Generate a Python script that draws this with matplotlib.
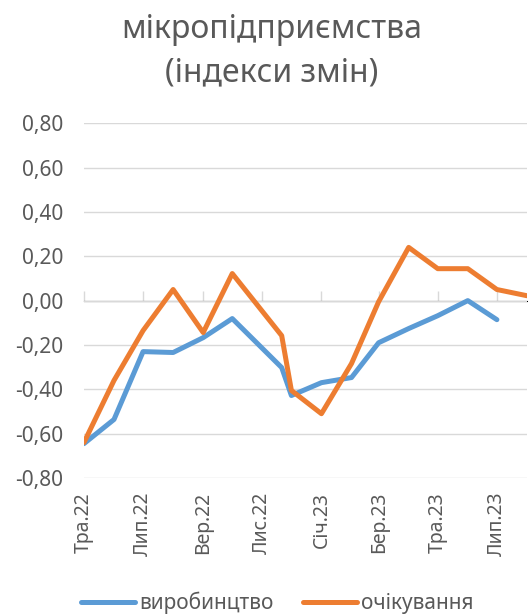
import matplotlib.pyplot as plt
import numpy as np
import pandas as pd

plt.rcParams['font.family'] = ['Noto Sans', 'DejaVu Sans']

# data
dates = ['2022-05-01', '2022-06-01', '2022-07-01', '2022-08-01', '2022-09-01',
         '2022-10-01', '2022-11-21', '2022-12-01', '2023-01-01', '2023-02-01',
         '2023-03-01', '2023-04-01', '2023-05-01', '2023-06-01', '2023-07-01',
         '2023-08-01']
production = [-0.645, -0.536, -0.23, -0.234, -0.167, -0.081, -0.302, -0.428,
              -0.37, -0.347, -0.19, -0.126, -0.068, 0.0, -0.086, np.nan]
expectations = [-0.64, -0.36, -0.135, 0.05, -0.144, 0.122, -0.158, -0.405,
                -0.51, -0.284, -0.005, 0.24, 0.144, 0.144, 0.05, 0.022]

tick_dates = ['2022-05-01', '2022-07-01', '2022-09-01', '2022-11-01',
              '2023-01-01', '2023-03-01', '2023-05-01', '2023-07-01']
tick_labels = ['Тра.22', 'Лип.22', 'Вер.22', 'Лис.22', 'Січ.23', 'Бер.23',
               'Тра.23', 'Лип.23']
y_ticks = [-0.8, -0.6, -0.4, -0.2, 0.0, 0.2, 0.4, 0.6, 0.8]

x = pd.to_datetime(dates)
xt = pd.to_datetime(tick_dates)

text_color = '#595959'
grid_color = '#D9D9D9'

fig = plt.figure(figsize=(5.28, 6.16), dpi=100)
ax = fig.add_axes([0.159, 0.224, 0.839, 0.576])

for yv in y_ticks:
    ax.axhline(yv, color=grid_color, linewidth=1.0, zorder=1)

ax.plot(x, production, color='#5B9BD5', linewidth=3.6, label='виробинцтво',
        solid_capstyle='round', zorder=3)
ax.plot(x, expectations, color='#ED7D31', linewidth=3.6, label='очікування',
        solid_capstyle='round', zorder=4)

ax.set_xlim(pd.Timestamp('2022-05-01'), pd.Timestamp('2023-08-01'))
ax.set_ylim(-0.8, 0.8)
ax.set_yticks(y_ticks)
ax.set_yticklabels([f'{v:.2f}'.replace('.', ',') for v in y_ticks])
ax.set_xticks(xt)
ax.set_xticklabels(tick_labels, rotation=90)
ax.tick_params(axis='both', length=0, labelsize=15, colors=text_color)
ax.tick_params(axis='y', pad=15)
ax.tick_params(axis='x', pad=10, labelsize=14)
for s in ax.spines.values():
    s.set_visible(False)

# category ticks hanging from the zero line
sec = ax.secondary_xaxis(0.5)
sec.set_xticks(xt)
sec.set_xticklabels([])
sec.tick_params(axis='x', direction='out', length=7, width=1, color=grid_color)
sec.spines['bottom'].set_visible(False)

fig.text(0.515, 0.917, 'мікропідприємства\n(індекси змін)', ha='center',
         va='center', fontsize=23, color=text_color, linespacing=1.45)

fig.legend(loc='center', bbox_to_anchor=(0.525, 0.021), ncol=2, frameon=False,
           fontsize=15, handlelength=2.6, handletextpad=0.2, columnspacing=1.4,
           labelcolor=text_color)

fig.savefig('out.png', dpi=100)
